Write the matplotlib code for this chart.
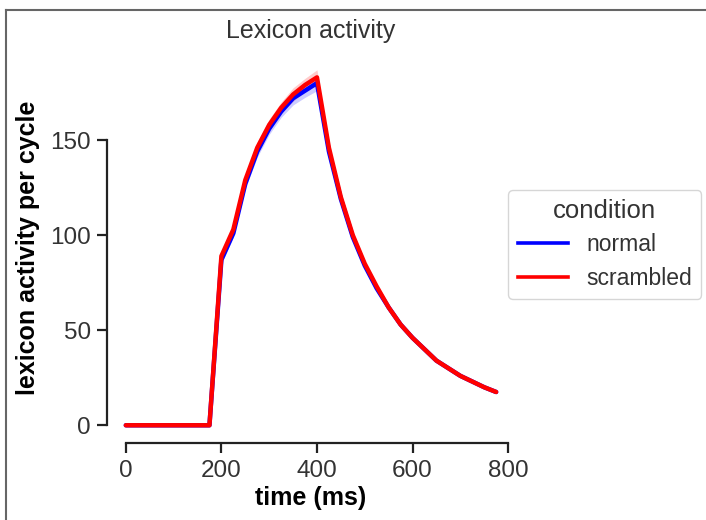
import numpy as np
import matplotlib.pyplot as plt
from matplotlib.lines import Line2D

# time axis (ms), one value per 25 ms cycle
time_ms = [0, 25, 50, 75, 100, 125, 150, 175, 200, 225, 250, 275, 300, 325, 350, 375,
           400, 425, 450, 475, 500, 525, 550, 575, 600, 625, 650, 675, 700, 725, 750, 775]

# mean lexicon activity per condition
normal = [0, 0, 0, 0, 0, 0, 0, 0, 87, 101, 127, 144, 156, 165, 172, 176,
          180, 144, 119, 99, 84, 72, 62, 53, 46, 40, 34, 30, 26, 23, 20, 17.5]
scrambled = [0, 0, 0, 0, 0, 0, 0, 0, 89, 103, 129, 146, 158, 167, 174, 179,
             183, 146, 120, 100, 85, 73, 62, 53, 46, 40, 34, 30, 26, 23, 20, 17.5]

# half-width of the confidence band
normal_ci = [0, 0, 0, 0, 0, 0, 0, 0, 2, 2, 2.5, 3, 3, 3, 3.5, 3.5,
             4, 3, 2.5, 2, 1.5, 1.5, 1, 1, 1, 1, 1, 0.5, 0.5, 0.5, 0.5, 0.5]
scrambled_ci = normal_ci

plt.rcParams["font.family"] = ["Liberation Sans", "DejaVu Sans"]

fig = plt.figure(figsize=(7.06, 5.2), dpi=100)
ax = fig.add_axes([0.152, 0.148, 0.577, 0.752])

t = np.array(time_ms)
for vals, ci, color, label in [(normal, normal_ci, "#0000ff", "normal"),
                               (scrambled, scrambled_ci, "#ff0000", "scrambled")]:
    v = np.array(vals)
    c = np.array(ci)
    ax.fill_between(t, v - c, v + c, color=color, alpha=0.2, linewidth=0)
    ax.plot(t, v, color=color, linewidth=3.2, label=label,
            solid_capstyle="round", solid_joinstyle="round")

ax.set_xticks([0, 200, 400, 600, 800])
ax.set_yticks([0, 50, 100, 150])
ax.set_xlim(-38.75, 813.75)

# seaborn-like despine with trim
for side in ["top", "right"]:
    ax.spines[side].set_visible(False)
for side in ["left", "bottom"]:
    ax.spines[side].set_linewidth(1.6)
    ax.spines[side].set_color("#222222")
ax.spines["bottom"].set_bounds(0, 800)
ax.spines["left"].set_bounds(0, 150)

ax.tick_params(axis="both", labelsize=17.5, width=1.6, length=7, color="#222222",
               labelcolor="#333333", pad=5)
ax.set_xlabel("time (ms)", fontsize=18, fontweight="bold", labelpad=3)
ax.set_ylabel("lexicon activity per cycle", fontsize=18, fontweight="bold", labelpad=7)
ax.set_title("Lexicon activity", fontsize=18, color="#333333", pad=10)

handles = [Line2D([], [], color="#0000ff", linewidth=2.6),
           Line2D([], [], color="#ff0000", linewidth=2.6)]
leg = fig.legend(handles, ["normal", "scrambled"], title="condition",
                 loc="center left", bbox_to_anchor=(0.704, 0.53),
                 fontsize=16.5, title_fontsize=18.5, frameon=True,
                 handlelength=2.2, labelspacing=0.45)
leg.get_frame().set_edgecolor("#cccccc")
for txt in leg.get_texts():
    txt.set_color("#333333")
leg.get_title().set_color("#333333")

# screenshot frame
fig.add_artist(Line2D([6 / 706, 6 / 706], [0, 1 - 10 / 520], transform=fig.transFigure,
                      color="#666666", linewidth=1.5))
fig.add_artist(Line2D([6 / 706, 1], [1 - 10 / 520, 1 - 10 / 520], transform=fig.transFigure,
                      color="#666666", linewidth=1.5))

fig.savefig("out.png", dpi=100)
